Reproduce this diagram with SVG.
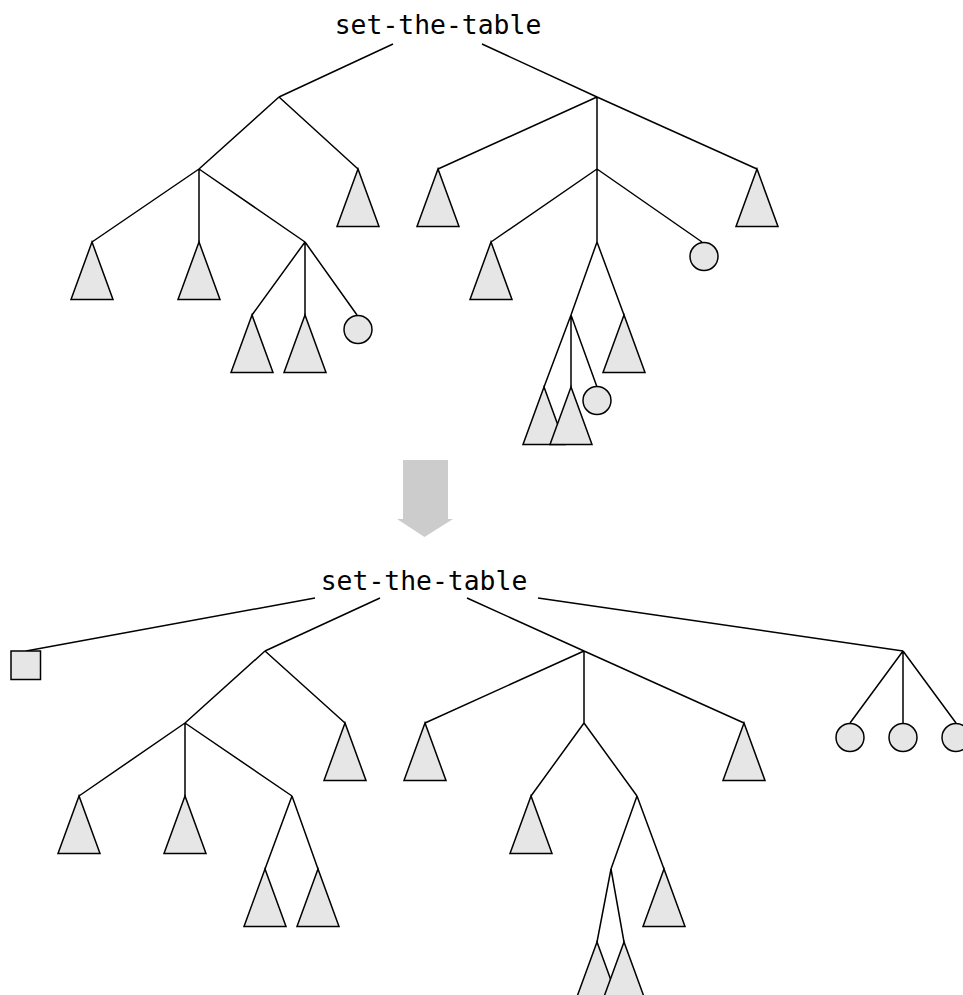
<svg xmlns="http://www.w3.org/2000/svg" width="963" height="995" viewBox="0 0 963 995">
<style>
.lbl{font-family:"DejaVu Sans Mono","Liberation Mono",monospace;font-size:26.4px;fill:#000;text-anchor:middle}
.e{stroke:#000;stroke-width:1.5;fill:none}
.s{fill:#e6e6e6;stroke:#000;stroke-width:1.5}
</style>
<defs>
<polygon id="tri" class="s" points="0,0 -21,57.5 21,57.5"/>
<circle id="cir" class="s" cx="0" cy="14.5" r="14"/>
</defs>
<rect width="963" height="995" fill="#fff"/>
<g id="connectors">
<path class="e" d="M393,44 L279,97 M482,44 L597,97"/>
<path class="e" d="M279,97 L199,169 M279,97 L358,169"/>
<path class="e" d="M199,169 L92,242 M199,169 L199,242 M199,169 L305,242"/>
<path class="e" d="M305,242 L252,315 M305,242 L305,315 M305,242 L357,315"/>
<path class="e" d="M597,97 L438,169 M597,97 L597,169 M597,97 L757,169"/>
<path class="e" d="M597,169 L491,242 M597,169 L597,242 M597,169 L702,242"/>
<path class="e" d="M597,242 L571,315 M597,242 L624,315"/>
<path class="e" d="M571,315 L544,387 M571,315 L571,387 M571,315 L597,387"/>
<path class="e" d="M315,598 L26,651 M380,598 L265,651 M467,598 L584,651 M538,598 L903,651"/>
<path class="e" d="M265,651 L185,723 M265,651 L345,723"/>
<path class="e" d="M185,723 L79,796 M185,723 L185,796 M185,723 L292,796"/>
<path class="e" d="M292,796 L265,869 M292,796 L318,869"/>
<path class="e" d="M584,651 L425,723 M584,651 L584,723 M584,651 L744,723"/>
<path class="e" d="M584,723 L531,796 M584,723 L637,796"/>
<path class="e" d="M637,796 L611,869 M637,796 L664,869"/>
<path class="e" d="M611,869 L597,942 M611,869 L624,942"/>
<path class="e" d="M903,651 L850,723 M903,651 L903,723 M903,651 L956,723"/>
</g>
<g id="top-root"><text class="lbl" x="438" y="33.5">set-the-table</text></g>
<g id="t-tri1"><use href="#tri" x="358" y="169"/></g>
<g id="t-tri2"><use href="#tri" x="92" y="242"/></g>
<g id="t-tri3"><use href="#tri" x="199" y="242"/></g>
<g id="t-tri4"><use href="#tri" x="252" y="315"/></g>
<g id="t-tri5"><use href="#tri" x="305" y="315"/></g>
<g id="t-cir1"><use href="#cir" x="358" y="315"/></g>
<g id="t-tri6"><use href="#tri" x="438" y="169"/></g>
<g id="t-tri7"><use href="#tri" x="757" y="169"/></g>
<g id="t-tri8"><use href="#tri" x="491" y="242"/></g>
<g id="t-cir2"><use href="#cir" x="704" y="242"/></g>
<g id="t-tri9"><use href="#tri" x="624" y="315"/></g>
<g id="t-tri10"><use href="#tri" x="544" y="387"/></g>
<g id="t-tri11"><use href="#tri" x="571" y="387"/></g>
<g id="t-cir3"><use href="#cir" x="597" y="386"/></g>
<g id="arrow"><polygon points="403,460 448,460 448,519 453,519 424.5,537 397,519 403,519" fill="#cccccc"/></g>
<g id="bottom-root"><text class="lbl" x="424" y="589.5">set-the-table</text></g>
<g id="b-sq"><rect class="s" x="11" y="651" width="29.5" height="28.5"/></g>
<g id="b-tri1"><use href="#tri" x="345" y="723"/></g>
<g id="b-tri2"><use href="#tri" x="79" y="796"/></g>
<g id="b-tri3"><use href="#tri" x="185" y="796"/></g>
<g id="b-tri4"><use href="#tri" x="265" y="869"/></g>
<g id="b-tri5"><use href="#tri" x="318" y="869"/></g>
<g id="b-tri6"><use href="#tri" x="425" y="723"/></g>
<g id="b-tri7"><use href="#tri" x="744" y="723"/></g>
<g id="b-tri8"><use href="#tri" x="531" y="796"/></g>
<g id="b-tri9"><use href="#tri" x="664" y="869"/></g>
<g id="b-tri10"><use href="#tri" x="597" y="942"/></g>
<g id="b-tri11"><use href="#tri" x="624" y="942"/></g>
<g id="b-cir1"><use href="#cir" x="850" y="723"/></g>
<g id="b-cir2"><use href="#cir" x="903" y="723"/></g>
<g id="b-cir3"><use href="#cir" x="956" y="723"/></g>
</svg>
